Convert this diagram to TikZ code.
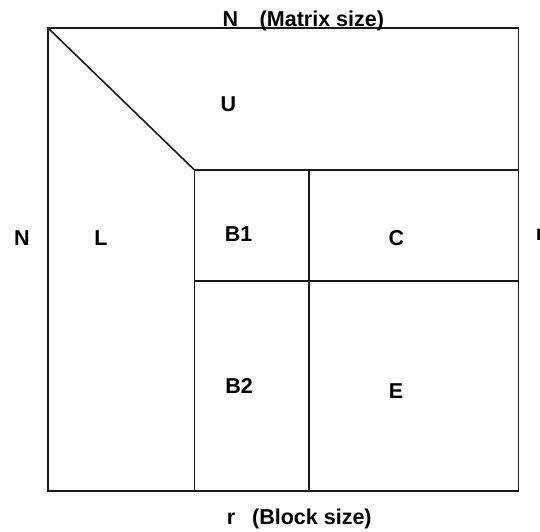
\documentclass[tikz,border=0pt]{standalone}
\usepackage{fontspec}
\setmainfont{Liberation Sans}
\begin{document}
\begin{tikzpicture}[x=1pt,y=-1pt,
  edge/.style={line width=1.6pt, draw=black!90},
  lbl/.style={font=\fontsize{21.5}{25}\selectfont\bfseries, inner sep=0pt, anchor=base}]
\useasboundingbox (0,0) rectangle (540,531);
% corners
\coordinate (tl) at (48,28);
\coordinate (tr) at (518.5,28);
\coordinate (bl) at (48,491);
\coordinate (br) at (518.5,491);
\coordinate (d) at (194.5,170);
\coordinate (mr) at (518.5,170);
\coordinate (cb) at (194.5,491);
\coordinate (v2t) at (309,170);
\coordinate (v2b) at (309,491);
\coordinate (h2l) at (194.5,281);
\coordinate (h2r) at (518.5,281);
\draw[edge] (tl) -- (tr) -- (br) -- (bl) -- cycle;
\draw[edge] (tl) -- (d) -- (mr);
\draw[edge] (d) -- (cb);
\draw[edge] (v2t) -- (v2b);
\draw[edge] (h2l) -- (h2r);
% labels
\node[lbl] (U) at (228.5,111) {U};
\node[lbl] (L) at (101,245) {L};
\node[lbl] (Nl) at (22,245) {N};
\node[lbl] (B1) at (238.5,241.5) {B1};
\node[lbl] (C) at (396.5,245.5) {C};
\node[lbl] (B2) at (239,393) {B2};
\node[lbl] (E) at (396,398) {E};
\node[lbl, anchor=base west] (top) at (222.5,26) {N\hspace{21.5pt}(Matrix size)};
\node[lbl, anchor=base west] (bot) at (226.6,524) {r\hspace{17pt}(Block size)};
\node[lbl, anchor=base west] (rr) at (535.6,240) {r};
\end{tikzpicture}
\end{document}
